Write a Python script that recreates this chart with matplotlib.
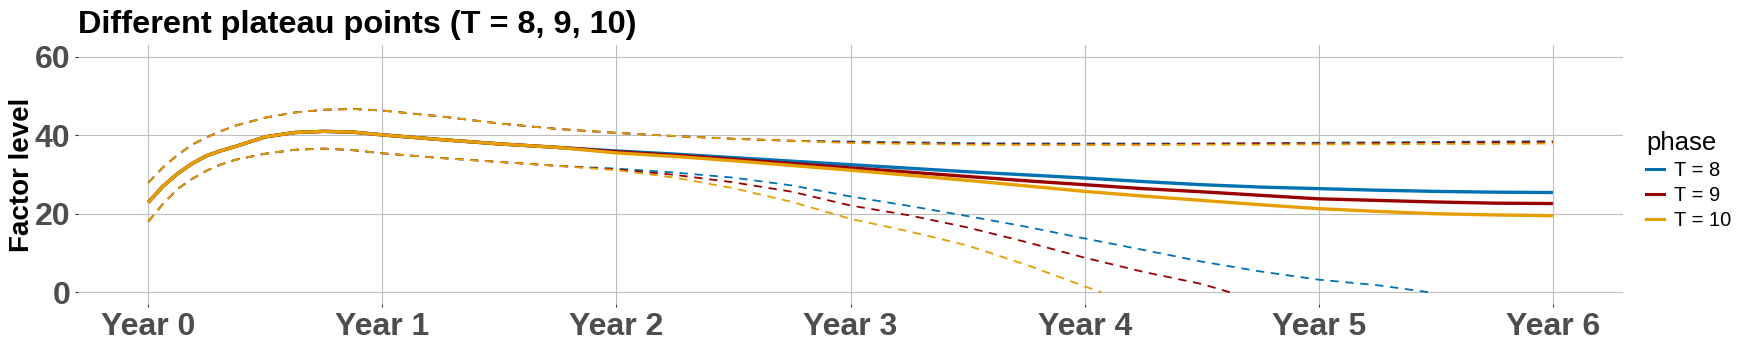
"""
plot.py

Factor level over six years for three plateau points (T = 8, 9, 10):
central estimate (solid) with upper/lower bands (dashed).
"""

import matplotlib

matplotlib.use("Agg")
import matplotlib.pyplot as plt
from matplotlib.lines import Line2D

plt.rcParams["font.family"] = ["Liberation Sans", "DejaVu Sans"]
plt.rcParams["lines.scale_dashes"] = False

# ---- data ----
years = [0, 0.0625, 0.125, 0.1875, 0.25, 0.3125, 0.375, 0.5, 0.625, 0.75, 0.875,
         1.0, 1.25, 1.5, 1.75, 2.0, 2.25, 2.5, 2.75, 3.0, 3.25, 3.5, 3.75, 4.0,
         4.25, 4.5, 4.75, 5.0, 5.25, 5.5, 5.75, 6.0]

phases = ["T = 8", "T = 9", "T = 10"]

early_mid = [22.9, 27.0, 30.2, 32.8, 34.8, 36.1, 37.2, 39.6, 40.7, 41.0, 40.8,
             40.1, 38.9, 37.8, 36.9]
mid_t8 = early_mid + [36.0, 35.2, 34.3, 33.4, 32.5, 31.6, 30.7, 29.9, 29.1, 28.2,
                      27.4, 26.8, 26.4, 26.0, 25.7, 25.5, 25.4]
mid_t9 = early_mid + [35.8, 34.9, 33.9, 32.8, 31.7, 30.6, 29.5, 28.4, 27.4, 26.4,
                      25.6, 24.7, 23.8, 23.4, 23.0, 22.7, 22.6]
mid_t10 = early_mid + [35.5, 34.6, 33.5, 32.3, 31.1, 29.8, 28.5, 27.1, 25.7, 24.5,
                       23.4, 22.3, 21.3, 20.6, 20.0, 19.7, 19.5]

early_upper = [27.9, 31.8, 35.0, 37.6, 39.5, 41.1, 42.5, 44.5, 45.8, 46.5, 46.7,
               46.3, 44.8, 43.0, 41.6, 40.6, 39.8, 39.1, 38.6]
upper_t8 = early_upper + [38.4, 38.2, 38.0, 37.9, 37.9, 37.9, 37.9, 38.0, 38.1,
                          38.2, 38.3, 38.4, 38.5]
upper_t9 = early_upper + [38.2, 38.0, 37.8, 37.7, 37.7, 37.7, 37.8, 37.9, 37.9,
                          38.0, 38.1, 38.2, 38.3]
upper_t10 = early_upper + [38.0, 37.8, 37.6, 37.5, 37.5, 37.5, 37.6, 37.6, 37.7,
                           37.7, 37.8, 37.8, 37.9]

early_lower = [18.0, 22.5, 26.3, 28.9, 31.0, 32.6, 33.8, 35.3, 36.3, 36.6, 36.2,
               35.4, 34.2, 33.2, 32.2]
lower_t8 = early_lower + [31.5, 30.5, 29.2, 27.2, 24.4, 22.0, 19.4, 16.7, 13.7,
                          10.8, 7.8, 5.3, 3.2, 1.8]
lower_t9 = early_lower + [31.3, 29.9, 28.0, 25.6, 22.1, 19.6, 16.5, 12.8, 8.8,
                          5.2, 2.1]
lower_t10 = early_lower + [31.1, 29.2, 26.5, 23.0, 18.7, 15.5, 11.9, 7.0, 1.5]
# year where each lower band reaches zero
lower_end = [5.47, 4.62, 4.07]

mids = [mid_t8, mid_t9, mid_t10]
uppers = [upper_t8, upper_t9, upper_t10]
lowers = [lower_t8, lower_t9, lower_t10]

x_ticks = [0, 1, 2, 3, 4, 5, 6]
x_labels = ["Year 0", "Year 1", "Year 2", "Year 3", "Year 4", "Year 5", "Year 6"]
y_ticks = [0, 20, 40, 60]

COLORS = ["#0072B2", "#990000", "#E69F00"]
DASH = (6.0, 4.8)

fig = plt.figure(figsize=(17.5, 3.5), dpi=100)
ax = fig.add_axes([0.0446, 0.1314, 0.8829, 0.74])

for i, phase in enumerate(phases):
    c = COLORS[i]
    ax.plot(years, mids[i], color=c, lw=2.4, solid_capstyle="butt")
    ax.plot(years, uppers[i], color=c, lw=1.3, dashes=DASH)
    n = len(lowers[i])
    ax.plot(years[:n] + [lower_end[i]], lowers[i] + [0.0], color=c, lw=1.3,
            dashes=DASH)

ax.set_xlim(-0.3, 6.3)
ax.set_ylim(-3, 63)
ax.set_xticks(x_ticks)
ax.set_xticklabels(x_labels)
ax.set_yticks(y_ticks)
for s in ax.spines.values():
    s.set_visible(False)
ax.grid(True, color="#BEBEBE", lw=0.8)
ax.set_axisbelow(True)
ax.tick_params(axis="both", length=2.5, width=0.8, color="#333333",
               labelsize=23, labelcolor="#4D4D4D", pad=3)
for lab in ax.get_xticklabels() + ax.get_yticklabels():
    lab.set_fontweight("bold")

ax.set_ylabel("Factor level", fontsize=20, fontweight="bold", labelpad=0)

fig.text(0.0445, 0.907, "Different plateau points (T = 8, 9, 10)",
         fontsize=23.4, fontweight="bold", va="baseline", ha="left")

handles = [Line2D([], [], color=c, lw=2.2) for c in COLORS]
leg = fig.legend(handles, phases, title="phase", loc="upper left",
                 bbox_to_anchor=(0.9405, 0.625), frameon=False, fontsize=14.5,
                 title_fontsize=18.5, handlelength=0.9, handletextpad=0.5,
                 labelspacing=0.3, borderpad=0, borderaxespad=0,
                 alignment="left")

fig.savefig("out.png", dpi=100)
